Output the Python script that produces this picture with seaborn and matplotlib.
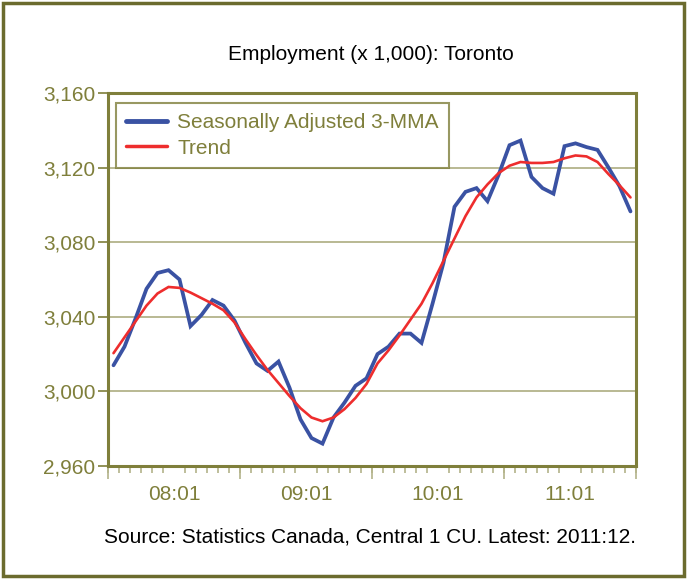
import matplotlib
matplotlib.use('Agg')
import matplotlib.pyplot as plt
from matplotlib.patches import Rectangle
from matplotlib.ticker import FixedLocator, FuncFormatter
import pandas as pd
import seaborn as sns

# monthly values, 48 months
sa_3mma = [3014, 3024, 3039, 3055, 3063.5, 3065, 3060, 3035, 3041, 3049, 3046, 3038,
           3026, 3015, 3011, 3016, 3002, 2985, 2975, 2972, 2986, 2994, 3003, 3007,
           3020, 3024, 3031, 3031, 3026, 3047, 3069, 3099, 3107, 3109, 3102, 3116,
           3132, 3134.5, 3115, 3109, 3106, 3131.5, 3133, 3131, 3129.5, 3120, 3110, 3096.5]
trend = [3020.5, 3029, 3037.5, 3046, 3052.5, 3056, 3055.5, 3053, 3050, 3047, 3043.5, 3037,
         3028, 3019.5, 3011.5, 3004.5, 2997.5, 2991, 2986, 2984, 2986, 2990.5, 2996.5, 3004,
         3015, 3022, 3030, 3038.5, 3047, 3058, 3070, 3082, 3094, 3104, 3111, 3117,
         3121, 3123, 3122.5, 3122.5, 3123, 3125, 3126.5, 3126, 3123, 3116.5, 3110.5, 3104]
year_labels = ['08:01', '09:01', '10:01', '11:01']
series_names = ['Seasonally Adjusted 3-MMA', 'Trend']
y_ticks = [2960, 3000, 3040, 3080, 3120, 3160]

olive = '#7f7f3b'
frame_col = '#6b6b2e'
grid_col = '#b3b38a'

months = list(range(len(sa_3mma)))
df = pd.DataFrame({'month': months * 2,
                   'value': sa_3mma + trend,
                   'series': [series_names[0]] * len(sa_3mma) + [series_names[1]] * len(trend)})

sns.set_theme(style='white')
plt.rcParams['font.family'] = ['Liberation Sans', 'DejaVu Sans']

fig = plt.figure(figsize=(6.87, 5.79), dpi=100)
ax = fig.add_axes([108 / 687, 113 / 579, 528 / 687, 373 / 579])

sns.lineplot(data=df, x='month', y='value', hue='series',
             palette={series_names[0]: '#3a52a3', series_names[1]: '#ee2d2d'},
             ax=ax, legend=True)
for line, w in zip(ax.lines, [2.7, 1.9]):
    line.set_linewidth(w)
    line.set_solid_joinstyle('miter')

ax.set_xlim(-0.5, len(months) - 0.5)
ax.set_ylim(y_ticks[0], y_ticks[-1])
ax.set_xlabel('')
ax.set_ylabel('')

# y axis
ax.set_yticks(y_ticks)
ax.yaxis.set_major_formatter(FuncFormatter(lambda v, p: f'{int(v):,}'))
ax.grid(axis='y', color=grid_col, linewidth=1.3)
ax.grid(axis='x', visible=False)

# x axis: labels in the middle of each year, month ticks between categories
ax.xaxis.set_major_locator(FixedLocator([5.5 + 12 * k for k in range(len(year_labels))]))
ax.set_xticklabels(year_labels)
ax.xaxis.set_minor_locator(FixedLocator([m - 0.5 for m in range(len(months) + 1)]))
ax.tick_params(axis='x', which='major', length=0, pad=14, labelsize=15, labelcolor=olive)
ax.tick_params(axis='x', which='minor', bottom=True, length=5, width=1.2, color=grid_col)
ax.tick_params(axis='y', which='major', left=True, length=7, width=1.2, color=olive,
               labelsize=15, labelcolor=olive, pad=2)
sec = ax.secondary_xaxis('bottom')
sec.set_xticks([12 * k - 0.5 for k in range(len(year_labels) + 1)])
sec.set_xticklabels([])
sec.tick_params(length=9, width=1.2, color=grid_col)
sec.spines['bottom'].set_visible(False)

for s in ax.spines.values():
    s.set_visible(True)
    s.set_color(olive)
    s.set_linewidth(2.2)

leg = ax.legend(loc='upper left', bbox_to_anchor=(0.015, 0.973), borderaxespad=0,
                frameon=True, fancybox=False, fontsize=15, handlelength=1.95,
                handletextpad=0.5, labelspacing=0.3, borderpad=0.5)
leg.get_frame().set_edgecolor(olive)
leg.get_frame().set_linewidth(1.5)
for t in leg.get_texts():
    t.set_color(olive)
for h, w in zip(leg.get_lines(), [3.5, 2.5]):
    h.set_linewidth(w)

fig.text(371 / 687, 1 - 55 / 579, 'Employment (x 1,000): Toronto', ha='center', va='center',
         fontsize=15, color='black')
fig.text(370 / 687, 1 - 537 / 579, 'Source: Statistics Canada, Central 1 CU. Latest: 2011:12.',
         ha='center', va='center', fontsize=15, color='black')

fig.patches.append(Rectangle((3 / 687, 3 / 579), 681 / 687, 573 / 579, transform=fig.transFigure,
                             fill=False, edgecolor=frame_col, linewidth=2.5))

fig.savefig('out.png', dpi=100)
